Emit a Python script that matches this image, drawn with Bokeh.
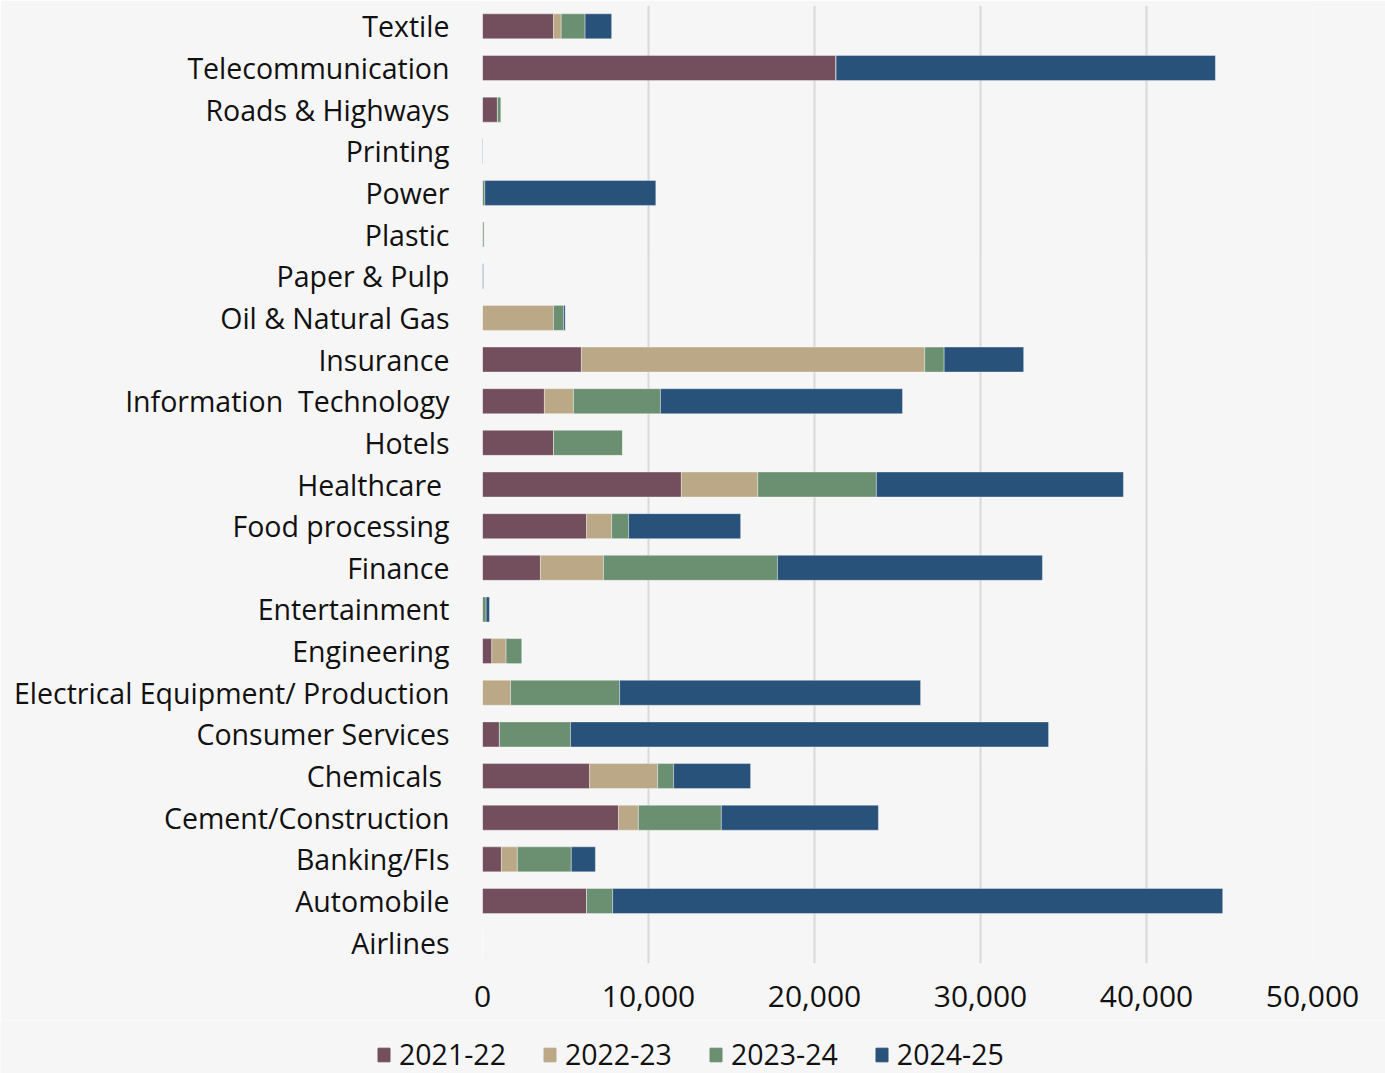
from bokeh.plotting import figure
from bokeh.layouts import column
from bokeh.models import ColumnDataSource, FactorRange, Range1d, NumeralTickFormatter, Legend, LegendItem, FixedTicker
from bokeh.embed import file_html
from bokeh.resources import INLINE

categories = ["Textile", "Telecommunication", "Roads & Highways", "Printing", "Power", "Plastic",
              "Paper & Pulp", "Oil & Natural Gas", "Insurance", "Information\u00a0 Technology", "Hotels",
              "Healthcare ", "Food processing", "Finance", "Entertainment", "Engineering",
              "Electrical Equipment/ Production", "Consumer Services", "Chemicals ",
              "Cement/Construction", "Banking/FIs", "Automobile", "Airlines"]

v2021_22 = [4280, 21300, 900, 0, 0, 0, 0, 0, 5960, 3730, 4280, 11980, 6270, 3490, 0, 560, 0, 1020, 6450, 8190, 1140, 6270, 0]
v2022_23 = [460, 0, 0, 0, 0, 0, 0, 4280, 20680, 1750, 0, 4600, 1510, 3800, 0, 860, 1690, 0, 4100, 1200, 960, 0, 0]
v2023_24 = [1440, 0, 220, 0, 140, 100, 0, 600, 1170, 5240, 4160, 7150, 1020, 10480, 220, 960, 6570, 4280, 960, 5000, 3250, 1570, 0]
v2024_25 = [1600, 22850, 0, 30, 10300, 0, 50, 100, 4790, 14580, 0, 14880, 6750, 15960, 200, 0, 18130, 28800, 4640, 9460, 1450, 36750, 0]

series = ["2021-22", "2022-23", "2023-24", "2024-25"]
colors = ["#734f5e", "#baa886", "#6b8f71", "#29527b"]
x_ticks = [0, 10000, 20000, 30000, 40000, 50000]

FONT = "Open Sans"
BG = "#f6f6f6"
TXT = "#111111"

cats_rev = categories[::-1]
data = {"cat": cats_rev}
for name, vals in zip(series, [v2021_22, v2022_23, v2023_24, v2024_25]):
    data[name] = vals[::-1]
source = ColumnDataSource(data)

p = figure(width=1385, height=1020, output_backend="svg", toolbar_location=None,
           y_range=FactorRange(factors=cats_rev, range_padding=0),
           x_range=Range1d(0, 50000),
           min_border_left=482, min_border_right=73, min_border_top=5, min_border_bottom=57)
p.frame_align = False
p.background_fill_color = BG
p.border_fill_color = BG
p.outline_line_color = None

p.hbar_stack(series, y="cat", height=0.6, color=colors, source=source,
             line_color="#ffffff", line_alpha=0.45, line_width=0.8)

p.ygrid.grid_line_color = None
p.xgrid.grid_line_color = "#d9d9d9"
p.xgrid.grid_line_width = 2
p.xaxis.ticker = FixedTicker(ticks=x_ticks)
p.xaxis.formatter = NumeralTickFormatter(format="0,0")
for ax in (p.xaxis, p.yaxis):
    ax.axis_line_color = None
    ax.major_tick_line_color = None
    ax.minor_tick_line_color = None
    ax.major_label_text_font = FONT
    ax.major_label_text_color = TXT
p.yaxis.major_label_text_font_size = "28.5px"
p.xaxis.major_label_text_font_size = "30px"
p.yaxis.major_label_standoff = 27
p.xaxis.major_label_standoff = 16

# legend strip (same data, x range chosen so that no bar is inside it)
p2 = figure(width=1385, height=53, output_backend="svg", toolbar_location=None,
            x_range=Range1d(-2, -1), y_range=FactorRange(factors=cats_rev),
            min_border=0, min_border_left=0, min_border_right=0, min_border_top=0, min_border_bottom=0,
            x_axis_type=None, y_axis_type=None)
p2.frame_align = False
p2.background_fill_color = BG
p2.border_fill_color = BG
p2.outline_line_color = None
p2.grid.grid_line_color = None
rs = p2.hbar_stack(series, y="cat", height=0.6, color=colors, source=source)
legend = Legend(items=[LegendItem(label=s, renderers=[r]) for s, r in zip(series, rs)],
                orientation="horizontal", location=(376, 0),
                background_fill_alpha=0, border_line_color=None,
                label_text_font=FONT, label_text_font_size="28.5px", label_text_color=TXT,
                glyph_width=15, glyph_height=17, label_standoff=8, spacing=36, padding=0, margin=0)
p2.add_layout(legend, "center")

layout = column(p, p2, spacing=0)
open("out.html", "w").write(file_html(layout, INLINE))
